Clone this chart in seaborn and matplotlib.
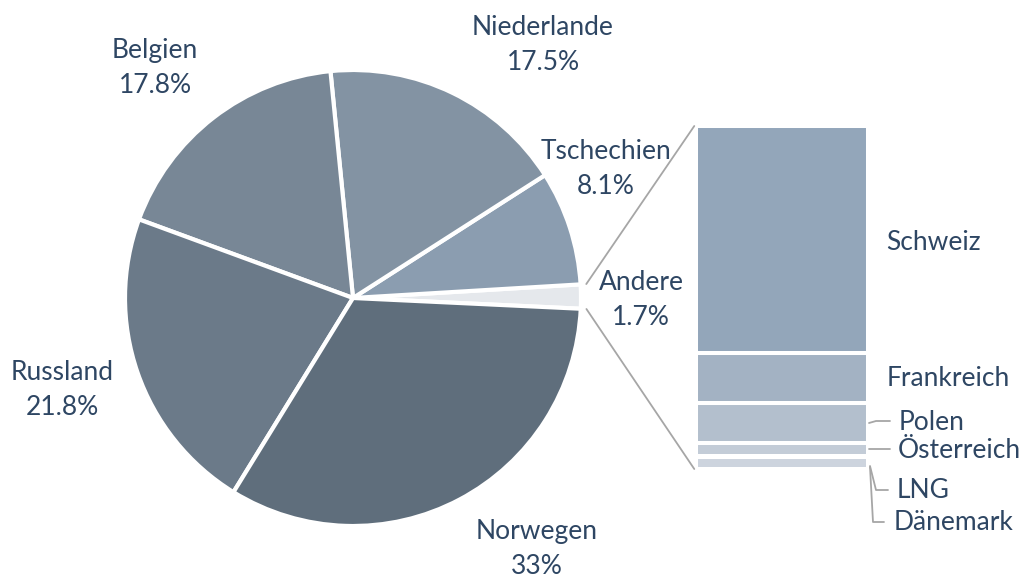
import matplotlib
matplotlib.use("Agg")
import matplotlib.pyplot as plt
from matplotlib.patches import ConnectionPatch
from matplotlib.lines import Line2D
import seaborn as sns
import numpy as np
import pandas as pd

# pie data (in drawing order, counter-clockwise from the right)
countries = ["Andere", "Tschechien", "Niederlande", "Belgien", "Russland", "Norwegen"]
shares = [1.7, 8.1, 17.5, 17.8, 21.8, 33]
pie_colors = ["#e5e8ec", "#8b9db0", "#8393a3", "#788796", "#6b7a89", "#5f6e7c"]

# breakdown of "Andere" (share of the 1.7 %), top to bottom
others = ["Schweiz", "Frankreich", "Polen", "Österreich", "LNG", "Dänemark"]
other_shares = [66.2, 14.6, 11.7, 3.8, 0.2, 3.5]
bar_colors = ["#93a6ba", "#a3b2c3", "#b3bfcd", "#c3ccd7", "#cad2dc", "#cdd4de"]

TXT = "#2e4663"
LINE = "#a6a6a6"
W, H = 1026, 577
FS = 19

sns.set_theme(style="white")
plt.rcParams["font.family"] = ["Lato", "DejaVu Sans"]

fig = plt.figure(figsize=(W / 100, H / 100), dpi=100)


def px(x, y):
    return x / W, 1 - y / H


# 1. PIE
cx, cy, r = 353, 298, 228
ax = fig.add_axes([(cx - r) / W, (H - cy - r) / H, 2 * r / W, 2 * r / H])
wedges, _ = ax.pie(shares, colors=pie_colors, startangle=-2.7, counterclock=True,
                   wedgeprops=dict(edgecolor="white", linewidth=3))
ax.set_xlim(-1, 1)
ax.set_ylim(-1, 1)
ax.set_axis_off()

# 2. STACKED BAR FOR "ANDERE"
bx0, bx1, by0, by1 = 696, 868, 126, 469
bax = fig.add_axes([bx0 / W, (H - by1) / H, (bx1 - bx0) / W, (by1 - by0) / H])
cum = np.cumsum(other_shares[::-1])[::-1]  # top segment first
for name, top, col in zip(others, cum, bar_colors):
    df = pd.DataFrame({"x": [0], "v": [top]})
    sns.barplot(data=df, x="x", y="v", color=col, width=1, saturation=1,
                edgecolor="white", linewidth=2.9, ax=bax)
bax.set_xlim(-0.5, 0.5)
bax.set_ylim(0, cum[0])
bax.set_axis_off()

# connector lines from the "Andere" wedge to the bar
andere = wedges[0]
for ang, yb in [(andere.theta2, 1), (andere.theta1, 0)]:
    a = np.deg2rad(ang)
    con = ConnectionPatch(xyA=(1.025 * np.cos(a), 1.025 * np.sin(a)), coordsA=ax.transData,
                          xyB=(-0.01, yb), coordsB=bax.transAxes,
                          color=LINE, linewidth=1.3)
    fig.add_artist(con)

# 3. PIE LABELS
pie_label_pos = {"Andere": (641, 300), "Tschechien": (606, 169), "Niederlande": (543, 45),
                 "Belgien": (155, 68), "Russland": (62, 390), "Norwegen": (537, 549)}
for name, val in zip(countries, shares):
    x, y = px(*pie_label_pos[name])
    fig.text(x, y, f"{name}\n{val:g}%", ha="center", va="center", fontsize=FS,
             color=TXT, linespacing=1.5)

# 4. BAR LABELS
bar_label_pos = {"Schweiz": (886, 242), "Frankreich": (887, 379), "Polen": (899, 422),
                 "Österreich": (898, 450), "LNG": (897, 491), "Dänemark": (894, 523)}
for name in others:
    x, y = px(*bar_label_pos[name])
    fig.text(x, y, name, ha="left", va="center", fontsize=FS, color=TXT)

# leader lines for the small segments
leaders = [
    [(869, 423), (876, 421), (890, 421)],
    [(869, 449), (890, 449)],
    [(870, 466), (876, 490), (888, 490)],
    [(870, 467), (873, 522), (884, 522)],
]
for pts in leaders:
    xs, ys = zip(*[px(*p) for p in pts])
    fig.add_artist(Line2D(xs, ys, color=LINE, linewidth=1.3, transform=fig.transFigure))

fig.savefig("out.png", dpi=100, facecolor="white")
